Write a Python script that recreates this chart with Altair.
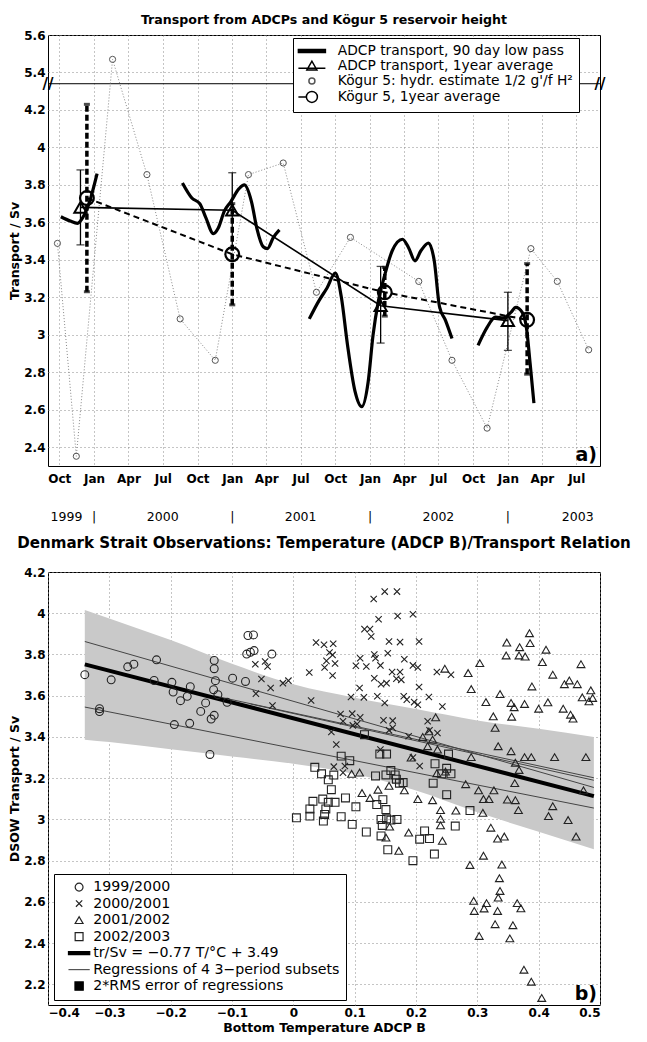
import altair as alt
import pandas as pd

FONT = "DejaVu Sans"

# ======================= panel a) data =======================
X_START, X_END = "1999-09-01", "2003-09-02"
month_ticks = ["1999-10-01", "2000-01-01", "2000-04-01", "2000-07-01", "2000-10-01",
               "2001-01-01", "2001-04-01", "2001-07-01", "2001-10-01", "2002-01-01",
               "2002-04-01", "2002-07-01", "2002-10-01", "2003-01-01", "2003-04-01",
               "2003-07-01"]
year_row_date = ["1999-10-20", "2000-01-01", "2000-07-01", "2001-01-01", "2001-07-01",
                 "2002-01-01", "2002-07-01", "2003-01-01", "2003-07-05"]
year_row_text = ["1999", "|", "2000", "|", "2001", "|", "2002", "|", "2003"]

# ADCP transport, 90 day low pass (4 deployment segments)
lp_seg = [1] * 6 + [2] * 16 + [3] * 22 + [4] * 10
lp_date = ["1999-10-05", "1999-10-30", "1999-11-18", "1999-12-02", "1999-12-20", "2000-01-09",
           "2000-08-22", "2000-09-16", "2000-10-07", "2000-10-23", "2000-11-12", "2000-11-25",
           "2000-12-11", "2000-12-28", "2001-01-19", "2001-02-02", "2001-02-21", "2001-03-07",
           "2001-03-24", "2001-04-04", "2001-04-20", "2001-05-06",
           "2001-07-24", "2001-08-18", "2001-09-09", "2001-10-01", "2001-10-17", "2001-11-02",
           "2001-11-22", "2001-12-10", "2001-12-27", "2002-01-09", "2002-01-23", "2002-02-09",
           "2002-03-01", "2002-03-28", "2002-04-13", "2002-04-30", "2002-05-16", "2002-06-05",
           "2002-06-20", "2002-07-04", "2002-07-20", "2002-08-06",
           "2002-10-14", "2002-11-07", "2002-11-29", "2002-12-20", "2003-01-09", "2003-01-22",
           "2003-02-08", "2003-02-19", "2003-03-01", "2003-03-11"]
lp_val = [3.63, 3.607, 3.595, 3.625, 3.71, 3.86,
          3.81, 3.73, 3.70, 3.625, 3.54, 3.57, 3.66, 3.71, 3.78, 3.80, 3.71, 3.57, 3.47, 3.46,
          3.52, 3.56,
          3.085, 3.18, 3.25, 3.33, 3.20, 2.95, 2.70, 2.617, 2.75, 3.00, 3.18, 3.32, 3.45, 3.51,
          3.465, 3.395, 3.45, 3.49, 3.395, 3.15, 3.076, 2.98,
          2.944, 3.04, 3.094, 3.09, 3.12, 3.146, 3.12, 3.04, 2.846, 2.635]

# ADCP transport, 1 year average
adcp_date = ["1999-11-26", "2001-01-01", "2002-01-29", "2003-01-01"]
adcp_val = [3.68, 3.665, 3.155, 3.076]
adcp_lo = [3.48, 3.465, 2.956, 2.917]
adcp_hi = [3.88, 3.865, 3.365, 3.227]

# Kögur 5 hydrographic estimates
kog_date = ["1999-09-26", "1999-11-15", "2000-02-19", "2000-05-20", "2000-08-16", "2000-11-17",
            "2001-02-13", "2001-05-16", "2001-08-12", "2001-11-10", "2002-05-10", "2002-08-06",
            "2002-11-07", "2003-03-03", "2003-05-12", "2003-08-03"]
kog_val = [3.488, 2.352, 5.47, 3.855, 3.085, 2.864, 3.855, 3.917, 3.227, 3.52, 3.285, 2.864,
           2.502, 3.46, 3.285, 2.92]

# Kögur 5, 1 year average
kavg_date = ["1999-12-13", "2001-01-01", "2002-02-09", "2003-02-21"]
kavg_val = [3.73, 3.43, 3.227, 3.08]
kavg_lo = [3.23, 3.16, 3.10, 2.79]
kavg_hi = [4.23, 3.70, 3.36, 3.38]

a_ticks = [2.4, 2.6, 2.8, 3.0, 3.2, 3.4, 3.6, 3.8, 4.0, 4.2, 5.4, 5.6]
BREAK_AT = 5.34      # upper section starts here
BREAK_SHIFT = 1.0    # values above the break are drawn shifted down by this

legend_a = ["ADCP transport, 90 day low pass", "ADCP transport, 1year average",
            "Kögur 5: hydr. estimate 1/2 g'/f H²", "Kögur 5, 1year average"]

# ======================= panel b) data =======================
t_9900 = [-0.340, -0.316, -0.316, -0.297, -0.270, -0.260, -0.223, -0.227, -0.198, -0.196, -0.194,
          -0.184, -0.173, -0.168, -0.169, -0.151, -0.143, -0.136, -0.134, -0.129, -0.130, -0.129,
          -0.129, -0.127, -0.123, -0.108, -0.099, -0.078, -0.076, -0.070, -0.064, -0.074, -0.065,
          -0.035]
v_9900 = [3.702, 3.537, 3.523, 3.677, 3.740, 3.753, 3.774, 3.674, 3.665, 3.618, 3.460, 3.576,
          3.597, 3.644, 3.466, 3.524, 3.565, 3.315, 3.487, 3.505, 3.629, 3.771, 3.731, 3.673,
          3.605, 3.568, 3.685, 3.669, 3.802, 3.811, 3.819, 3.892, 3.895, 3.802]

t_0001 = [-0.062, -0.052, -0.046, -0.042, -0.037, -0.061, -0.034, -0.017, -0.008,
          0.131, 0.149, 0.169, 0.139, 0.170, 0.195, 0.116, 0.125, 0.127, 0.156, 0.174, 0.205,
          0.037, 0.050, 0.065, 0.059, 0.064, 0.054, 0.068, 0.051, 0.064, 0.026, 0.109, 0.102,
          0.119, 0.132, 0.134, 0.154, 0.142, 0.181, 0.195, 0.203, 0.161, 0.174, 0.132, 0.143,
          0.152, 0.168, 0.176, 0.205, 0.234, 0.257, 0.108, 0.029, 0.094, 0.115, 0.137, 0.149,
          0.180, 0.185, 0.197, 0.203, 0.221, 0.243, 0.077, 0.096, 0.109, 0.081, 0.097, 0.104,
          0.147, 0.162, 0.162, 0.156, 0.062, 0.070, 0.188, 0.219, 0.222, 0.235, 0.142,
          0.066, 0.084, 0.081, 0.195, 0.206]
v_0001 = [3.753, 3.681, 3.766, 3.742, 3.637, 3.610, 3.552, 3.661, 3.673,
          4.069, 4.105, 4.105, 3.971, 3.987, 3.995, 3.923, 3.923, 3.887, 3.863, 3.860, 3.863,
          3.858, 3.847, 3.852, 3.810, 3.798, 3.769, 3.756, 3.737, 3.698, 3.713, 3.782, 3.745,
          3.742, 3.800, 3.782, 3.806, 3.747, 3.777, 3.747, 3.737, 3.715, 3.715, 3.685, 3.656,
          3.661, 3.682, 3.677, 3.642, 3.715, 3.702, 3.637, 3.577, 3.594, 3.592, 3.597, 3.565,
          3.597, 3.581, 3.569, 3.556, 3.594, 3.548, 3.511, 3.513, 3.495, 3.476, 3.456, 3.463,
          3.481, 3.479, 3.444, 3.432, 3.424, 3.363, 3.403, 3.476, 3.432, 3.419, 3.339,
          3.256, 3.259, 3.227, 3.300, 3.259]

t_0102 = [0.247, 0.232, 0.221, 0.211, 0.227, 0.219, 0.235, 0.192,
          0.385, 0.386, 0.348, 0.369, 0.347, 0.368, 0.378, 0.412, 0.406, 0.469, 0.304, 0.285,
          0.423, 0.442, 0.450, 0.463, 0.389, 0.290, 0.485, 0.471, 0.488, 0.482, 0.337, 0.314,
          0.355, 0.360, 0.377, 0.356, 0.400, 0.415, 0.440, 0.452, 0.456, 0.326, 0.329, 0.334,
          0.355, 0.290, 0.377, 0.388, 0.426, 0.477,
          0.362, 0.368, 0.361, 0.473, 0.281, 0.302, 0.327, 0.310, 0.319, 0.349, 0.362, 0.367,
          0.423, 0.416, 0.448, 0.461, 0.309, 0.265, 0.240, 0.240, 0.240, 0.243, 0.322, 0.333,
          0.344, 0.310, 0.288, 0.340, 0.336,
          0.337, 0.334, 0.294, 0.295, 0.315, 0.311, 0.333, 0.365, 0.371, 0.329, 0.358, 0.303,
          0.353, 0.376, 0.388, 0.405,
          0.095, 0.108, 0.156, 0.181, 0.112, 0.125, 0.138, 0.203, 0.227, 0.157, 0.151, 0.172,
          0.188, 0.234, 0.248]
v_0102 = [3.731, 3.495, 3.427, 3.400, 3.387, 3.355, 3.339, 3.300,
          3.903, 3.855, 3.858, 3.835, 3.795, 3.795, 3.790, 3.823, 3.763, 3.753, 3.758, 3.710,
          3.702, 3.656, 3.674, 3.656, 3.645, 3.632, 3.626, 3.592, 3.589, 3.573, 3.608, 3.569,
          3.565, 3.544, 3.560, 3.498, 3.537, 3.568, 3.537, 3.508, 3.489, 3.500, 3.444, 3.355,
          3.331, 3.302, 3.302, 3.302, 3.302, 3.302,
          3.275, 3.240, 3.176, 3.141, 3.171, 3.141, 3.141, 3.099, 3.099, 3.096, 3.093, 3.045,
          3.064, 3.016, 2.997, 2.917, 3.032, 3.043, 3.045, 3.003, 2.971, 2.896, 2.960, 2.907,
          2.917, 2.824, 2.779, 2.781, 2.715,
          2.653, 2.621, 2.605, 2.556, 2.594, 2.568, 2.556, 2.594, 2.569, 2.492, 2.487, 2.435,
          2.423, 2.271, 2.213, 2.134,
          3.221, 3.227, 3.163, 3.141, 3.128, 3.104, 3.144, 3.099, 3.093, 2.965, 2.912, 2.848,
          2.936, 3.224, 3.232]

t_0203 = [0.035, 0.046, 0.057, 0.066, 0.092, 0.078, 0.141, 0.152, 0.134, 0.151, 0.159, 0.166,
          0.168, 0.173, 0.179, 0.062, 0.032, 0.027, 0.048, 0.057, 0.068, 0.053, 0.051, 0.085,
          0.102, 0.005, 0.027, 0.049, 0.078, 0.096, 0.119, 0.136, 0.146, 0.151, 0.143, 0.152,
          0.145, 0.159, 0.169, 0.143, 0.154, 0.195, 0.230, 0.206, 0.214, 0.222, 0.228, 0.250,
          0.242, 0.257, 0.253, 0.264, 0.250, 0.288, 0.116, 0.231]
v_0203 = [3.253, 3.221, 3.192, 3.215, 3.285, 3.307, 3.317, 3.317, 3.211, 3.216, 3.237, 3.216,
          3.195, 3.176, 3.179, 3.144, 3.088, 3.051, 3.099, 3.083, 3.083, 3.051, 3.024, 3.104,
          3.061, 3.008, 3.016, 2.992, 3.013, 2.976, 2.939, 3.072, 3.096, 3.048, 3.000, 3.003,
          2.971, 2.997, 3.000, 2.920, 2.853, 2.800, 2.832, 2.904, 2.944, 2.907, 3.176, 3.120,
          3.221, 3.221, 3.317, 2.968, 3.248, 3.043, 3.411, 3.270]

# main regression tr/Sv = -0.77 T + 3.49 (end points as drawn)
reg_t = [-0.34, 0.49]
reg_v = [3.752, 3.113]
# regressions of the 4 subsets (end points as drawn)
sub_id = [1, 1, 2, 2, 3, 3, 4, 4]
sub_t = [-0.34, 0.49, -0.13, 0.49, -0.34, 0.49, -0.07, 0.49]
sub_v = [3.863, 3.155, 3.600, 3.202, 3.545, 3.055, 3.560, 3.190]
# 2*RMS band
band_t = [-0.34, -0.30, -0.20, -0.10, 0.00, 0.10, 0.20, 0.30, 0.40, 0.49]
band_up = [4.016, 3.975, 3.870, 3.755, 3.655, 3.590, 3.535, 3.480, 3.440, 3.400]
band_lo = [3.387, 3.375, 3.340, 3.305, 3.270, 3.220, 3.140, 3.035, 2.940, 2.855]

b_xticks = [-0.4, -0.3, -0.2, -0.1, 0.0, 0.1, 0.2, 0.3, 0.4, 0.5]
b_yticks = [2.2, 2.4, 2.6, 2.8, 3.0, 3.2, 3.4, 3.6, 3.8, 4.0, 4.2]

groups_b = ["1999/2000", "2000/2001", "2001/2002", "2002/2003"]
legend_b = groups_b + ["tr/Sv = \u22120.77 T/\u00b0C + 3.49",
                       "Regressions of 4 3\u2212period subsets",
                       "2*RMS error of regressions"]

# ======================= helpers =======================
def to_dt(s):
    y, m, d = map(int, s.split("-"))
    return alt.DateTime(year=y, month=m, date=d, utc=True)


def brk(v):
    return v - BREAK_SHIFT if v > BREAK_AT else v


BREAK_Y = BREAK_AT - BREAK_SHIFT   # where the break line is drawn on the shifted axis

W, HA, HB = 552, 431, 433

xa_scale = alt.Scale(type="utc", domain=[to_dt(X_START), to_dt(X_END)])
xa_axis = alt.Axis(values=[to_dt(s) for s in month_ticks], format="%b", title=None,
                   labelPadding=7, labelOverlap=False)
ya_scale = alt.Scale(domain=[2.3, brk(5.6)], nice=False, zero=False)
ya_axis = alt.Axis(values=[brk(v) for v in a_ticks], title="Transport / Sv",
                   labelOverlap=False,
                   labelExpr=f"format(datum.value > {BREAK_Y} ? datum.value + {BREAK_SHIFT} : datum.value, '.1~f')")


def XA(f="date"):
    return alt.X(f"{f}:T", scale=xa_scale, axis=xa_axis, title=None)


def YA(f="yp"):
    return alt.Y(f"{f}:Q", scale=ya_scale, axis=ya_axis, title="Transport / Sv")


# dataframes a)
lp_df = pd.DataFrame({"seg": lp_seg, "date": lp_date, "yp": [brk(v) for v in lp_val]})
adcp_df = pd.DataFrame({"date": adcp_date, "yp": adcp_val, "lo": adcp_lo, "hi": adcp_hi})
adcp_caps = pd.DataFrame({"date": adcp_date * 2, "yp": adcp_lo + adcp_hi})
kog_df = pd.DataFrame({"date": kog_date, "yp": [brk(v) for v in kog_val]})
kavg_df = pd.DataFrame({"date": kavg_date, "yp": kavg_val, "lo": kavg_lo, "hi": kavg_hi})
kavg_caps = pd.DataFrame({"date": kavg_date * 2, "yp": kavg_lo + kavg_hi})
year_df = pd.DataFrame({"date": year_row_date, "label": year_row_text})
leg_a_df = pd.DataFrame({"series": legend_a, "date": [None] * 4, "yp": [None] * 4})
brk_df = pd.DataFrame({"t": ["//"], "yp": [BREAK_Y]})

path_thick_a = "M-2.7,-0.3H2.7V0.3H-2.7Z"
path_tri_a = "M-2.7,0.45H2.7M-1,0.8L0,-0.95L1,0.8Z"
path_small_a = "M-0.6,0A0.6,0.6,0,1,0,0.6,0A0.6,0.6,0,1,0,-0.6,0"
path_big_a = "M-2.7,0H-1.1M-1.1,0A1.1,1.1,0,1,0,1.1,0A1.1,1.1,0,1,0,-1.1,0"

leg_a = alt.Legend(title=None, orient="none", legendX=245, legendY=3,
                   labelFont=FONT, labelFontSize=13.8, labelLimit=0,
                   strokeColor="black", fillColor="white", padding=6,
                   symbolSize=100, symbolStrokeWidth=1.5, symbolOffset=6,
                   labelOffset=19, rowPadding=0, cornerRadius=0)

brk_rule = alt.Chart(brk_df).mark_rule(color="black", strokeWidth=1).encode(y=YA())

kog_line = alt.Chart(kog_df).mark_line(color="#888", strokeWidth=1, strokeDash=[1, 2]).encode(
    x=XA(), y=YA())
kog_pts = alt.Chart(kog_df).mark_point(shape="circle", size=38, color="#555", strokeWidth=1,
                                       filled=False, opacity=1).encode(x=XA(), y=YA())

lp_line = alt.Chart(lp_df).mark_line(color="black", strokeWidth=3.2, interpolate="monotone").encode(
    x=XA(), y=YA(), detail="seg:N")

adcp_line = alt.Chart(adcp_df).mark_line(color="black", strokeWidth=1.6).encode(x=XA(), y=YA())
adcp_err = alt.Chart(adcp_df).mark_rule(color="black", strokeWidth=1.3).encode(
    x=XA(), y=YA("lo"), y2="hi:Q")
adcp_cap = alt.Chart(adcp_caps).mark_tick(orient="horizontal", color="black", size=8,
                                          thickness=1.3).encode(x=XA(), y=YA())
adcp_pts = alt.Chart(adcp_df).mark_point(shape="triangle-up", size=150, color="black",
                                         strokeWidth=2, filled=False, opacity=1).encode(
    x=XA(), y=YA())

kavg_line = alt.Chart(kavg_df).mark_line(color="black", strokeWidth=2, strokeDash=[6, 4]).encode(
    x=XA(), y=YA())
kavg_err = alt.Chart(kavg_df).mark_rule(color="black", strokeWidth=3.5, strokeDash=[6, 3]).encode(
    x=XA(), y=YA("lo"), y2="hi:Q")
kavg_cap = alt.Chart(kavg_caps).mark_tick(orient="horizontal", color="black", size=6,
                                          thickness=3).encode(x=XA(), y=YA())
kavg_pts = alt.Chart(kavg_df).mark_point(shape="circle", size=190, color="black",
                                         strokeWidth=2.2, filled=False, opacity=1).encode(
    x=XA(), y=YA())

leg_layer_a = alt.Chart(leg_a_df).mark_point(size=100, strokeWidth=1.5, opacity=1).encode(
    x=XA(), y=YA(),
    shape=alt.Shape("series:N", scale=alt.Scale(domain=legend_a,
                    range=[path_thick_a, path_tri_a, path_small_a, path_big_a]), legend=leg_a),
    stroke=alt.Stroke("series:N", scale=alt.Scale(domain=legend_a,
                      range=["black", "black", "#555", "black"]), legend=leg_a),
    fill=alt.Fill("series:N", scale=alt.Scale(domain=legend_a,
                  range=["black", "transparent", "transparent", "transparent"]), legend=leg_a),
)

brk_left = alt.Chart(brk_df).mark_text(
    font=FONT, fontSize=15, fontWeight="bold", align="center", baseline="middle").encode(
    text="t:N", x=alt.value(0), y=YA())
brk_right = alt.Chart(brk_df).mark_text(
    font=FONT, fontSize=15, fontWeight="bold", align="center", baseline="middle").encode(
    text="t:N", x=alt.value(W), y=YA())

a_label = alt.Chart(pd.DataFrame({"t": ["a)"]})).mark_text(
    font=FONT, fontSize=19, fontWeight="bold", align="right", baseline="bottom").encode(
    text="t:N", x=alt.value(W - 3), y=alt.value(HA - 1))

year_text = alt.Chart(year_df).mark_text(font=FONT, fontSize=12.5, baseline="middle").encode(
    x=XA(), text="label:N", y=alt.value(HA + 51))

chart_a = alt.layer(
    brk_rule, kog_line, kog_pts, lp_line, adcp_line, adcp_err, adcp_cap, adcp_pts,
    kavg_line, kavg_err, kavg_cap, kavg_pts, leg_layer_a, brk_left, brk_right, a_label, year_text
).properties(width=W, height=HA,
             title=alt.TitleParams("Transport from ADCPs and Kögur 5 reservoir height",
                                   font=FONT, fontSize=12.6, fontWeight="bold", offset=2))

# ======================= panel b) =======================
xb_scale = alt.Scale(domain=[-0.4, 0.5], nice=False, zero=False)
xb_axis = alt.Axis(values=b_xticks, format=".1~f", title="Bottom Temperature ADCP B",
                   labelPadding=2, titlePadding=3, labelOverlap=False)
yb_scale = alt.Scale(domain=[2.1, 4.2], nice=False, zero=False)
yb_axis = alt.Axis(values=b_yticks, format=".1~f", title="DSOW Transport / Sv",
                   labelOverlap=False)


def XB(f="T"):
    return alt.X(f"{f}:Q", scale=xb_scale, axis=xb_axis, title="Bottom Temperature ADCP B")


def YB(f="V"):
    return alt.Y(f"{f}:Q", scale=yb_scale, axis=yb_axis, title="DSOW Transport / Sv")


sc_df = pd.DataFrame({
    "T": t_9900 + t_0001 + t_0102 + t_0203,
    "V": v_9900 + v_0001 + v_0102 + v_0203,
    "group": [groups_b[0]] * len(t_9900) + [groups_b[1]] * len(t_0001)
             + [groups_b[2]] * len(t_0102) + [groups_b[3]] * len(t_0203),
})
band_df = pd.DataFrame({"T": band_t, "V": band_lo, "V2": band_up})
reg_df = pd.DataFrame({"T": reg_t, "V": reg_v})
sub_df = pd.DataFrame({"id": sub_id, "T": sub_t, "V": sub_v})

path_cross = "M-0.8,-0.8L0.8,0.8M-0.8,0.8L0.8,-0.8"
path_thick_b = "M-2.7,-0.38H2.7V0.38H-2.7Z"
path_thin_b = "M-2.7,0H2.7"
path_sq_b = "M-1.05,-1.05H1.05V1.05H-1.05Z"

leg_b = alt.Legend(title=None, orient="none", legendX=6, legendY=302,
                   labelFont=FONT, labelFontSize=14.2, labelLimit=0,
                   strokeColor="black", fillColor="white", padding=6,
                   symbolSize=62, symbolStrokeWidth=1.2, symbolOffset=12,
                   labelOffset=7, rowPadding=1.5, cornerRadius=0)

band = alt.Chart(band_df).mark_area(color="#c9c9c9", opacity=1, interpolate="monotone").encode(
    x=XB(), y=YB(), y2="V2:Q")
subs = alt.Chart(sub_df).mark_line(color="#444", strokeWidth=1).encode(
    x=XB(), y=YB(), detail="id:N")
reg = alt.Chart(reg_df).mark_line(color="black", strokeWidth=4).encode(x=XB(), y=YB())
scatter = alt.Chart(sc_df).mark_point(size=62, strokeWidth=1.1, opacity=1, filled=False).encode(
    x=XB(), y=YB(),
    shape=alt.Shape("group:N", scale=alt.Scale(domain=legend_b,
                    range=["circle", path_cross, "triangle-up", "square",
                           path_thick_b, path_thin_b, path_sq_b]), legend=leg_b),
    stroke=alt.Stroke("group:N", scale=alt.Scale(domain=legend_b,
                      range=["#222", "#222", "#222", "#222", "black", "#555", "black"]),
                      legend=leg_b),
    fill=alt.Fill("group:N", scale=alt.Scale(domain=legend_b,
                  range=["transparent"] * 4 + ["black", "transparent", "black"]), legend=leg_b),
)
b_label = alt.Chart(pd.DataFrame({"t": ["b)"]})).mark_text(
    font=FONT, fontSize=19, fontWeight="bold", align="right", baseline="bottom").encode(
    text="t:N", x=alt.value(W - 3), y=alt.value(HB - 1))

chart_b = alt.layer(band, subs, reg, scatter, b_label).properties(
    width=W, height=HB,
    title=alt.TitleParams("Denmark Strait Observations: Temperature (ADCP B)/Transport Relation",
                          font=FONT, fontSize=15.1, fontWeight="bold", offset=15))

chart = alt.vconcat(chart_a, chart_b, spacing=11).resolve_scale(
    shape="independent", stroke="independent", fill="independent"
).resolve_legend(
    shape="independent", stroke="independent", fill="independent"
).properties(
    padding={"left": 0, "top": 5, "right": 3, "bottom": 2}
).configure_view(
    stroke="black", strokeWidth=1
).configure_axis(
    labelFont=FONT, labelFontSize=12, labelFontWeight="bold", labelColor="black",
    titleFont=FONT, titleFontSize=12.5, titleFontWeight="bold", titleColor="black",
    grid=True, gridColor="#8a8a8a", gridDash=[1, 3], gridWidth=1,
    domain=False, ticks=False, labelPadding=3, titlePadding=2, labelOverlap=False
).configure_title(anchor="middle", color="black")

chart.save("out.html", embed_options={"renderer": "svg", "actions": False})
